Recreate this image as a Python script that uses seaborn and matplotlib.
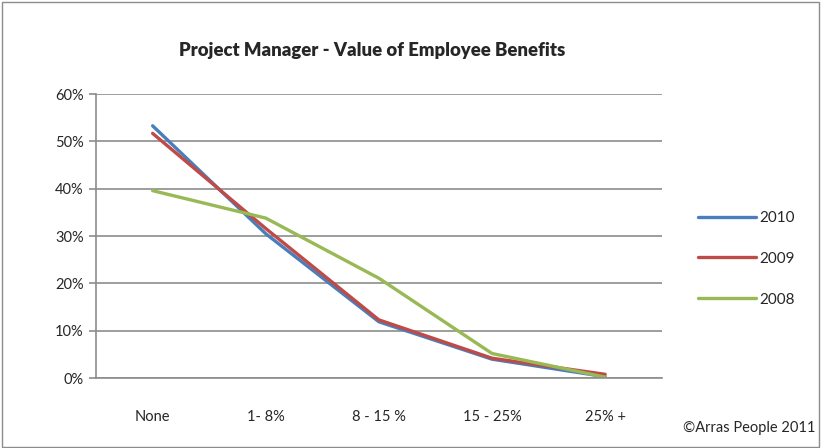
import pandas as pd
import matplotlib.pyplot as plt
import matplotlib.patches as patches
from matplotlib.ticker import FixedLocator, PercentFormatter
import seaborn as sns

# Datos (porcentaje de PMs por valor de beneficios)
CATEGORIAS = ['None', '1- 8%', '8 - 15 %', '15 - 25%', '25% +']
ANIOS = ['2010', '2009', '2008']
VALORES_2010 = [53.3, 30.5, 11.9, 4.0, 0.3]
VALORES_2009 = [51.7, 31.6, 12.3, 4.2, 0.8]
VALORES_2008 = [39.6, 33.8, 21.1, 5.2, 0.2]
COLORES = ['#4A7EBB', '#BE4B48', '#98B954']

sns.set_style('white')
plt.rcParams['font.family'] = ['Lato', 'DejaVu Sans']

filas = []
for anio, vals in zip(ANIOS, [VALORES_2010, VALORES_2009, VALORES_2008]):
    for cat, v in zip(CATEGORIAS, vals):
        filas.append({'Categoria': cat, 'Valor': v, 'Anio': anio})
df = pd.DataFrame(filas)

fig = plt.figure(figsize=(8.21, 4.48), dpi=100)
ax = fig.add_axes([0.117, 0.156, 0.689, 0.634])

sns.lineplot(data=df, x='Categoria', y='Valor', hue='Anio', hue_order=ANIOS,
             palette=COLORES, linewidth=2.4, ax=ax, sort=False)

ax.set_xlim(-0.5, 4.5)
ax.set_ylim(0, 60)
ax.set_yticks(range(0, 61, 10))
ax.yaxis.set_major_formatter(PercentFormatter(decimals=0))
ax.grid(axis='y', color='#8C8C8C', linewidth=1.2)
ax.set_axisbelow(True)

ax.set_xticks(range(len(CATEGORIAS)))
ax.set_xticklabels(CATEGORIAS)
ax.xaxis.set_minor_locator(FixedLocator([i - 0.5 for i in range(len(CATEGORIAS) + 1)]))
ax.tick_params(axis='x', which='major', length=0, pad=23, labelsize=10.5)
ax.tick_params(axis='x', which='minor', length=5, width=1.2, color='#8C8C8C', direction='out')
ax.tick_params(axis='y', length=5, width=1.2, color='#8C8C8C', direction='out',
               pad=4, labelsize=10.5, left=True)

for lado in ['top', 'right']:
    ax.spines[lado].set_visible(False)
for lado in ['left', 'bottom']:
    ax.spines[lado].set_color('#8C8C8C')
    ax.spines[lado].set_linewidth(1.2)

ax.set_xlabel('')
ax.set_ylabel('')

leg = ax.legend(loc='center left', bbox_to_anchor=(1.04, 0.42), frameon=False,
                handlelength=3.8, handletextpad=0.2, labelspacing=1.75, fontsize=11)
for linea in leg.get_lines():
    linea.set_linewidth(2.4)

fig.text(0.453, 0.888, 'Project Manager - Value of Employee Benefits',
         ha='center', va='center', fontsize=13.3, fontweight='heavy')
fig.text(0.993, 0.045, '©Arras People 2011', ha='right', va='center', fontsize=10.5)

# Borde exterior del gráfico
fig.patches.append(patches.Rectangle((0.002, 0.003), 0.995, 0.993, transform=fig.transFigure,
                                     fill=False, edgecolor='#8C8C8C', linewidth=1))

plt.savefig('out.png', dpi=100)
plt.close()
